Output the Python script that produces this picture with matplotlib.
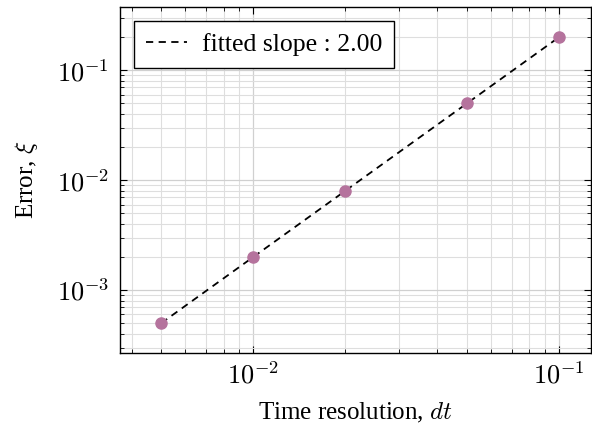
import matplotlib
matplotlib.use("Agg")
import matplotlib.pyplot as plt
import matplotlib.ticker as mticker
import numpy as np

plt.rcParams["font.family"] = ["Liberation Serif", "DejaVu Serif"]
plt.rcParams["mathtext.fontset"] = "cm"

dt = [0.005, 0.01, 0.02, 0.05, 0.1]
err = [0.0005, 0.002, 0.008, 0.05, 0.2]

# least-squares fit in log-log space
slope, intercept = np.polyfit(np.log10(dt), np.log10(err), 1)
fit_x = np.array([dt[0], dt[-1]])
fit_y = 10 ** (intercept + slope * np.log10(fit_x))


def pow10(v, pos):
    return f"$10^{{{int(round(np.log10(v)))}}}$"


fig = plt.figure(figsize=(5.92, 4.28), dpi=100)
ax = fig.add_axes([0.203, 0.175, 0.795, 0.808])

ax.plot(fit_x, fit_y, "k--", linewidth=1.3, dashes=(4, 3),
        label=f"fitted slope : {slope:.2f}", zorder=3)
ax.plot(dt, err, "o", color="#b5739d", markersize=8, zorder=4)

ax.set_xscale("log")
ax.set_yscale("log")
ax.set_xlim(0.00367, 0.127)
ax.set_ylim(2.67e-4, 0.374)
ax.xaxis.set_major_locator(mticker.FixedLocator([0.01, 0.1]))
ax.yaxis.set_major_locator(mticker.FixedLocator([0.001, 0.01, 0.1]))
ax.xaxis.set_major_formatter(mticker.FuncFormatter(pow10))
ax.yaxis.set_major_formatter(mticker.FuncFormatter(pow10))

ax.grid(True, which="major", color="#d0d0d0", linewidth=0.9)
ax.grid(True, which="minor", color="#dedede", linewidth=0.8)
ax.tick_params(which="both", direction="in", top=True, right=True, labelsize=19)
ax.tick_params(which="major", length=5)
ax.tick_params(which="minor", length=3)
ax.tick_params(axis="y", which="major", pad=8)
ax.tick_params(axis="x", which="major", pad=6)
for s in ax.spines.values():
    s.set_linewidth(1.0)

ax.set_xlabel("Time resolution, $dt$", fontsize=18, labelpad=9)
ax.set_ylabel("Error, $\\xi$", fontsize=18, labelpad=12)

leg = ax.legend(loc="upper left", fontsize=18.5, fancybox=False, framealpha=1,
                edgecolor="black", handlelength=1.6, handletextpad=0.6,
                borderpad=0.45, borderaxespad=0.55)
leg.get_frame().set_linewidth(1.0)

fig.savefig("out.png", dpi=100)
